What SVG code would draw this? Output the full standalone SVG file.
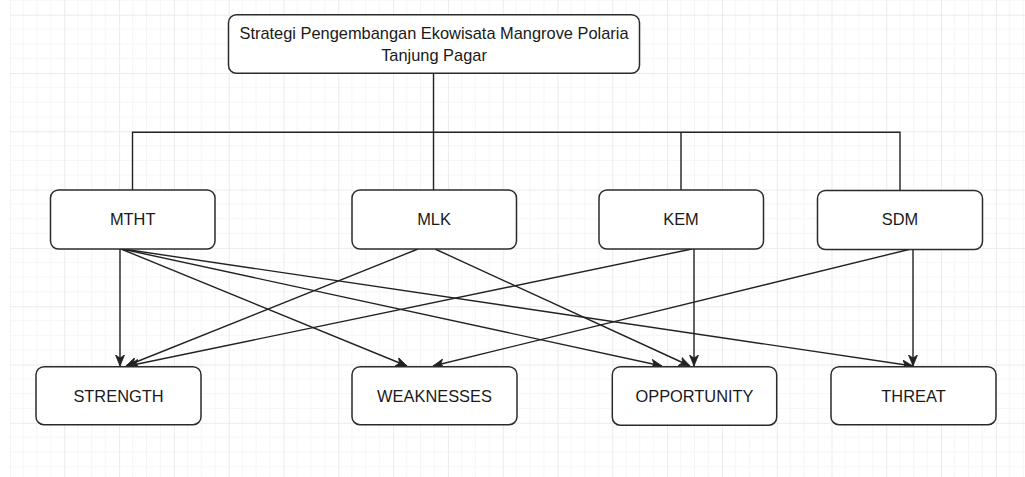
<svg xmlns="http://www.w3.org/2000/svg" width="1025" height="477" viewBox="0 0 1025 477">
<defs>
<pattern id="grid" patternUnits="userSpaceOnUse" x="9.5" y="14.7" width="54.8" height="58.3">
<path d="M13.7,0V58.3M27.4,0V58.3M41.1,0V58.3M0,14.575H54.8M0,29.15H54.8M0,43.725H54.8" stroke="#f5f5f5" stroke-width="1" fill="none"/>
<path d="M0.5,0V58.3M0,0.5H54.8" stroke="#ebebeb" stroke-width="1" fill="none"/>
</pattern>
<marker id="arr" markerUnits="userSpaceOnUse" markerWidth="12" markerHeight="10" refX="11" refY="5" orient="auto" viewBox="0 0 12 10">
<path d="M0,0.5 L11,5 L0,9.5 L3,5 Z" fill="#222" stroke="#222" stroke-width="0.8"/>
</marker>
<style>
.box{fill:#fff;stroke:#2b2b2b;stroke-width:1.5}
.lbl{font-family:"Liberation Sans",Arial,sans-serif;font-size:16.4px;fill:#1a1a1a;text-anchor:middle}
.tree{fill:none;stroke:#222;stroke-width:1.4}
.edge{fill:none;stroke:#222;stroke-width:1.4;marker-end:url(#arr)}
</style>
</defs>
<rect x="0" y="0" width="1025" height="477" fill="#fff"/>
<rect x="10" y="0" width="1015" height="477" fill="url(#grid)"/>

<g id="connectors">
<path class="tree" d="M433.5,73.3V132.3M132.5,190V132.3H900V190M433.5,132.3V190M681,132.3V190"/>
<path class="edge" d="M120,249V366"/>
<path class="edge" d="M121,249L407,366"/>
<path class="edge" d="M122,249L662,366"/>
<path class="edge" d="M123,249L913,366"/>
<path class="edge" d="M418,249L126,366"/>
<path class="edge" d="M435,249L690,366"/>
<path class="edge" d="M692,249L128,366"/>
<path class="edge" d="M694,249V366"/>
<path class="edge" d="M911,249L433,366"/>
<path class="edge" d="M913,249V366"/>
</g>

<g id="node-root">
<rect class="box" x="228.5" y="14.7" width="411" height="58.6" rx="8"/>
<text class="lbl" x="434" y="39.3">Strategi Pengembangan Ekowisata Mangrove Polaria</text>
<text class="lbl" x="434" y="60.7">Tanjung Pagar</text>
</g>
<g id="node-mtht">
<rect class="box" x="50.5" y="190" width="164.5" height="59" rx="8"/>
<text class="lbl" x="132.7" y="225">MTHT</text>
</g>
<g id="node-mlk">
<rect class="box" x="352" y="190" width="164.5" height="59" rx="8"/>
<text class="lbl" x="434" y="225">MLK</text>
</g>
<g id="node-kem">
<rect class="box" x="599" y="190" width="164.5" height="59" rx="8"/>
<text class="lbl" x="681" y="225">KEM</text>
</g>
<g id="node-sdm">
<rect class="box" x="817.5" y="190.5" width="165" height="59" rx="8"/>
<text class="lbl" x="900" y="225">SDM</text>
</g>
<g id="node-strength">
<rect class="box" x="36" y="366.7" width="165" height="58" rx="8"/>
<text class="lbl" x="118.5" y="401.5">STRENGTH</text>
</g>
<g id="node-weaknesses">
<rect class="box" x="352" y="366.7" width="165" height="58" rx="8"/>
<text class="lbl" x="434.5" y="401.5">WEAKNESSES</text>
</g>
<g id="node-opportunity">
<rect class="box" x="612.3" y="366.7" width="164.4" height="58.5" rx="8"/>
<text class="lbl" x="694.5" y="401.5">OPPORTUNITY</text>
</g>
<g id="node-threat">
<rect class="box" x="831" y="366.7" width="165" height="58" rx="8"/>
<text class="lbl" x="913.5" y="401.5">THREAT</text>
</g>
</svg>
